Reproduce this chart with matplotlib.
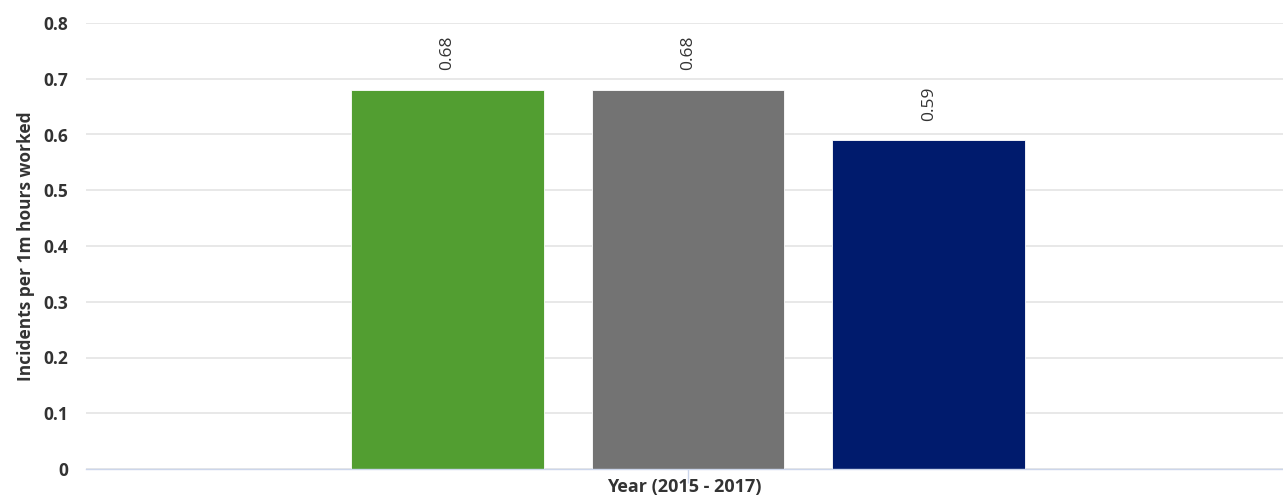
import matplotlib.pyplot as plt
import numpy as np

# incident rates per series, one category group
series = ['2015', '2016', '2017']
rates = [0.68, 0.68, 0.59]
colors = ['#529e31', '#737373', '#001b6d']
y_ticks = [0, 0.1, 0.2, 0.3, 0.4, 0.5, 0.6, 0.7, 0.8]
y_tick_labels = ['0', '0.1', '0.2', '0.3', '0.4', '0.5', '0.6', '0.7', '0.8']

plt.rcParams['font.family'] = ['Open Sans', 'DejaVu Sans']

W, H = 1283, 498
fig = plt.figure(figsize=(W / 100, H / 100), dpi=100)
ax = fig.add_axes([86 / W, 29 / H, (W - 86) / W, (469 - 23) / H])

offsets = np.array([-0.2, 0.0, 0.2])
bar_w = 0.16
bars = ax.bar(offsets, rates, width=bar_w, color=colors, zorder=3,
              edgecolor='white', linewidth=0.6)

# rotated value labels above each column
for b, v in zip(bars, rates):
    ax.annotate(f'{v:.2f}', (b.get_x() + b.get_width() / 2, v),
                xytext=(0, 14), textcoords='offset points',
                ha='center', va='bottom', rotation=90,
                fontsize=12.5, color='#333333')

ax.set_xlim(-0.5, (W - 688) / 1204)
ax.set_ylim(0, 0.8)
ax.set_yticks(y_ticks)
ax.set_yticklabels(y_tick_labels, fontsize=12.5, fontweight='bold', color='#333333')
ax.tick_params(axis='y', length=0, pad=13)
ax.grid(axis='y', color='#e6e6e6', linewidth=1.3, zorder=0)

ax.set_xticks([0])
ax.set_xticklabels([''])
ax.tick_params(axis='x', length=10, width=1, color='#ccd6eb', pad=0)
ax.set_xlabel('Year (2015 - 2017)', fontsize=13, fontweight='bold',
              color='#333333')
ax.xaxis.set_label_coords(0.5, -18 / 446)
ax.xaxis.label.set_va('center')
ax.set_ylabel('Incidents per 1m hours worked', fontsize=12.5,
              fontweight='bold', color='#333333', labelpad=6)

for s in ['top', 'right', 'left']:
    ax.spines[s].set_visible(False)
ax.spines['bottom'].set_color('#ccd6eb')
ax.spines['bottom'].set_linewidth(1)
ax.spines['bottom'].set_zorder(4)

fig.savefig('out.png', dpi=100, facecolor='white')
